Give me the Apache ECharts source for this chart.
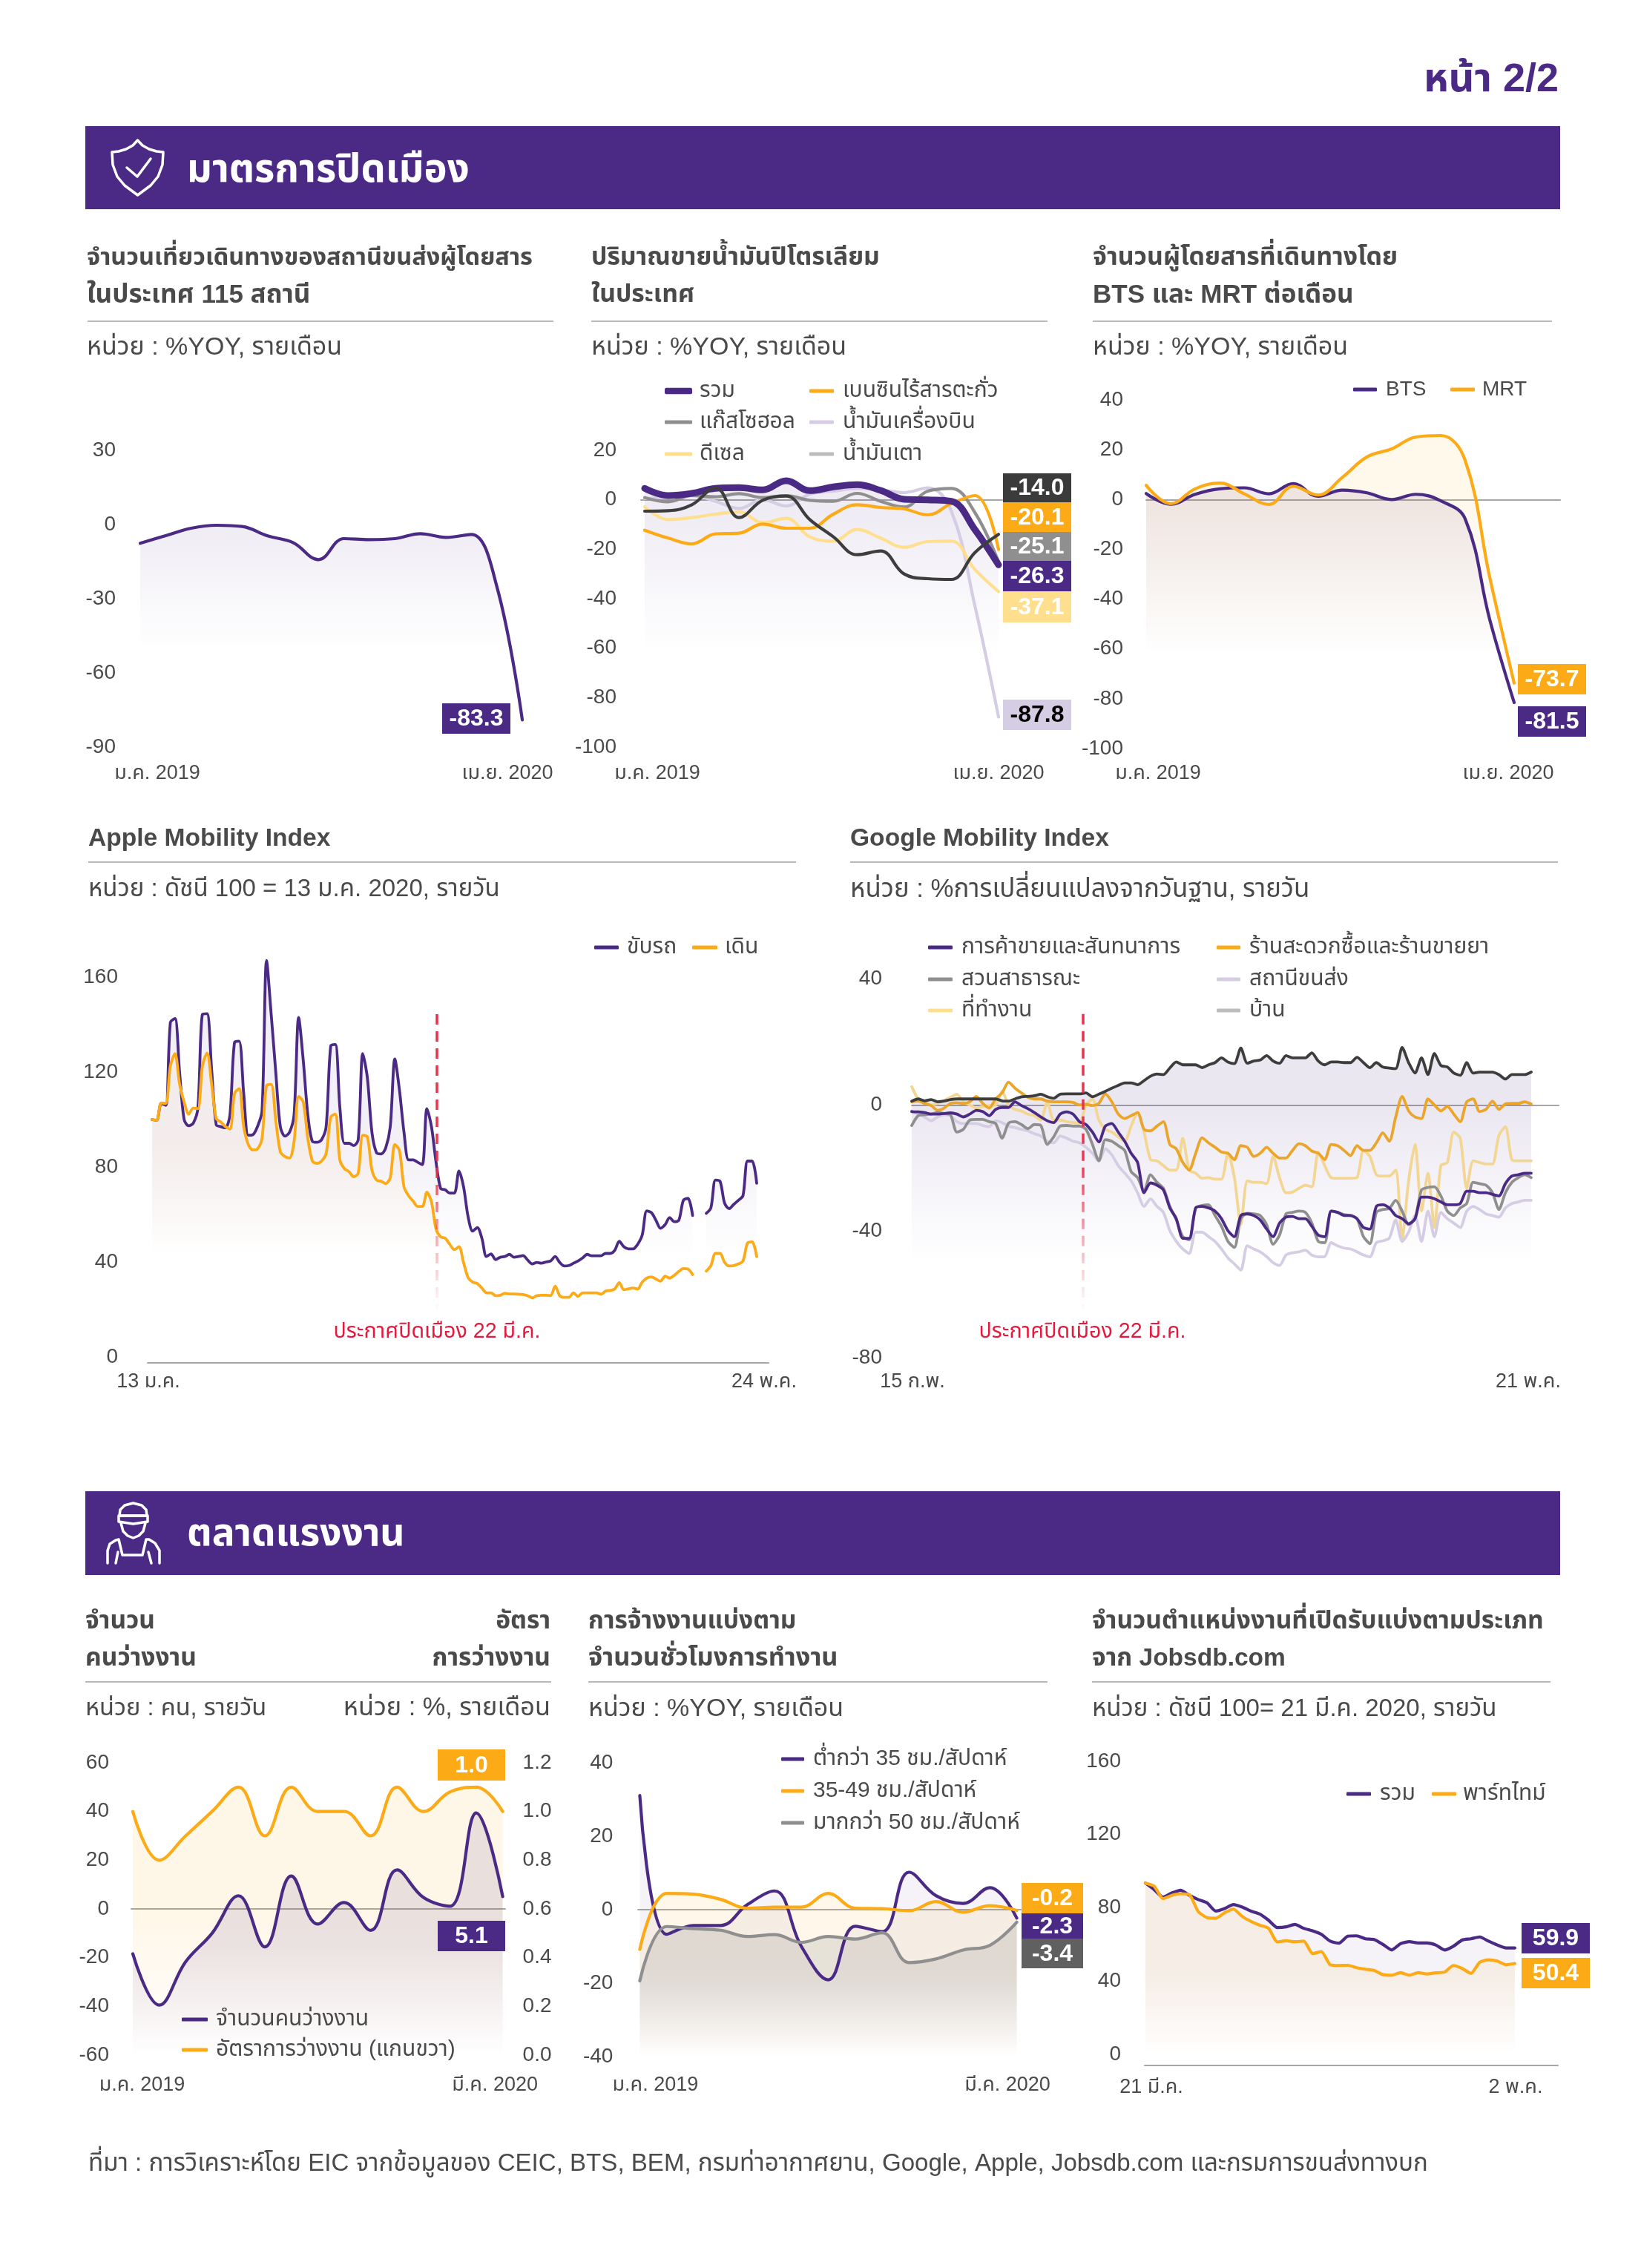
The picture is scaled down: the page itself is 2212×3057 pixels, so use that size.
<!DOCTYPE html>
<html lang="th"><head><meta charset="utf-8">
<style>html,body{margin:0;padding:0;background:#fff}#c{width:2212px;height:3057px}</style>
<script src="https://cdn.jsdelivr.net/npm/echarts@6/dist/echarts.min.js"></script>
</head><body><div id="c"></div>
<script>
// ---- chart 1
const tripLabels=['ม.ค. 2019','เม.ย. 2020'];
const tripYoy=[-7.6,-4.5,-1.5,-0.3,-0.8,-4.6,-7.3,-14.2,-5.7,-6.1,-5.7,-3.7,-5.2,-4,-25,-79];
// ---- chart 2
const fuelTotal=[4.6,1.7,2.6,4.6,4.9,4,7.7,3.7,5.2,6.1,3.8,0.2,0,-0.6,-12.1,-26.3];
const fuelGasohol=[0.9,-0.8,1.7,1.2,2.5,0.9,1.7,-0.2,-0.6,2.6,-0.6,-2.9,3.5,4.6,-5.2,-25.1];
const fuelDiesel=[-2.9,-8,-7.2,-5.8,-4.9,-9.2,-7.5,-15,-16.7,-12,-15.5,-19.2,-16.9,-16.7,-28.2,-37.1];
const fuelBenzene=[-12.3,-15.5,-17.8,-13.8,-13.5,-9.8,-11.5,-11.5,-5.8,-2,-3.1,-3.7,-6.1,-1.5,1.7,-20.1];
const fuelJet=[0.5,1,1.7,-0.6,-3.5,0,-2.5,2.3,3.5,4.6,4,2.9,4.8,-4.6,-43,-87.8];
const fuelOil=[-4.6,-4.4,-2,4.9,-7.2,-0.2,1.5,-8,-15,-22.2,-20.7,-30,-31.9,-32.2,-21.3,-14];
// ---- chart 3
const btsYoy=[2.4,-1.9,2.1,4.3,4.7,2.3,6.4,1.3,3.8,2.7,0,2.1,-0.5,-7.7,-48,-81.5];
const mrtYoy=[5.7,-1.7,4.3,6.6,2.3,-2,5.3,1.8,8.9,17.1,20.3,25.1,25.7,15.8,-31,-73.7];
// ---- chart 4
const appleLabels=['13 ม.ค.','24 พ.ค.'];
const appleDrive=[100,99.7,106.8,106,141,142.5,120,100,97.4,98.5,104.8,144.4,144.6,121,97.8,97,96.5,102,132.5,133,111,93.4,93.6,97,103.5,167,144.4,120,97,93,94.6,102,143,125,102,90.8,90.4,91.5,97,131,131.6,105,90,90,89,91.5,127.8,117.6,94.6,86,85.5,88,97,125.5,112.5,94.6,83,83,82,81,104.6,97,82,71,70.4,69,69,78.3,71.7,59,53,54.5,50,42.3,43.4,41,42,42.3,43.2,42,42.3,42.7,40.8,39.2,39.8,39.5,40,40.4,42.3,39.8,38.3,38.5,39.5,40.4,41.7,43.2,42.6,42.6,42.6,43.6,43.6,44.9,48.7,46.4,45.5,45.5,47.4,51.3,61.5,60.8,57.6,54.2,55.7,58.7,57,57.6,66,66.8,59.6,null,null,60.5,62.8,74.5,74,64.7,62.5,64.3,66,67.9,82.5,82.5,73.2];
const appleWalk=[100,99.7,107,106.8,122.7,127.8,115,107.4,102.3,104.8,104.6,122.7,128,115,100.4,99,97,96,111,113,97,89.5,87.2,87.6,92,114.4,114.8,99.7,86.4,84.4,83.8,90.8,109.7,107.4,92,82.5,81.5,82.5,85.7,101,102.3,83,79.3,78,75.9,77.4,93.4,92.7,78.7,74.5,74,73,75.5,89.5,87,71.7,67.9,65.6,63.4,63.4,69.4,65.3,53.8,50.6,50,47.4,45.2,46.4,39.8,33.4,31.5,30.9,29,27,27,25.8,26,26.8,26.5,26.5,26.4,26.3,25.8,24.9,25.8,26,26,25.8,29.8,25.8,25.1,25.1,27,25.5,27,27,27,27,26.4,27.7,28,28.6,31.3,28.3,28.7,29,28.6,31.5,33.2,33.7,32.8,31.9,34,33.2,34.4,36,37.2,37,34.7,null,null,36.2,38.5,43.6,43.6,39.8,38.3,38.5,39.2,40.4,48,48.5,42.3];
// ---- chart 5
const googleLabels=['15 ก.พ.','21 พ.ค.'];
const googleHome=[1.2,1.9,1.3,1.7,1,1.2,1.7,1.9,1.9,1.9,1.9,1.9,1.9,1.9,1.3,1.2,1.9,2.6,2.7,2.9,3.4,2.6,2.1,3.4,3.5,3.5,3.5,3.8,2.6,3.4,4.3,5.3,6.2,7,7,6.4,7.7,9.1,9.8,9.6,11.7,13.6,12.7,12.7,12.7,11.8,12.7,13.4,14.9,13.6,13.1,18,13.2,13.9,14.2,15.6,13.9,13.2,15.6,14.9,14.9,14.9,16.5,13.9,12.7,13.6,13.6,13.4,13.4,15.1,13.4,11.8,13.4,12,11.7,11.5,18.2,13.4,10.1,14.9,9.6,16.3,12.5,12,10.1,9.4,13.4,10.1,10.4,10.4,10.4,9.6,8.2,9.6,9.6,9.6,10.4];
const googleGrocery=[1,1.2,0.5,-0.2,-1.7,-1,0.5,0.7,0.5,1,2.7,0.5,-1,1.9,3.8,7.2,5.3,3.8,2.4,1.9,1.9,1.2,1,1,1,0.8,0,0.2,-0.2,0.5,3.5,1,-2.9,-4.3,-3.4,-2.4,-7.7,-8.2,-6.7,-5.3,-12.5,-13.9,-18.2,-20.6,-15.3,-10.4,-12,-13.4,-14.9,-15.3,-17.3,-12.9,-13.4,-16.3,-15.3,-13.4,-15.3,-16.8,-16.8,-14.4,-12.3,-12.9,-14.6,-15.3,-17.3,-12.5,-12.9,-14.4,-16,-12.9,-14.4,-14.4,-12,-8.8,-11.5,-3.8,2.7,-1.9,-3.8,-4.3,1.9,0,-1.9,-0.5,-2.9,-5.3,1,1.9,-2.1,-1.4,1.2,-1.4,0.3,0.5,0.5,1,0.3];
const googleWork=[5.8,1.9,1,0,0.5,1.4,2.4,3.4,1,0,-1,-0.5,-0.2,0,4.3,0,-1.4,-1.9,-2.9,-3.4,-4.8,1,-4.8,-4.8,-5.3,-5.6,-5.8,0,1.9,-4.8,-7.7,-8.6,-10.1,-11.5,-6.7,-2.4,-8.6,-17.3,-17.7,-19.2,-20.6,-20.6,-10.5,-20.6,-21.6,-23.2,-23,-23.5,-23.5,-15.3,-23,-37.9,-24,-24.5,-24.5,-24.9,-16.3,-23,-27.8,-27.6,-26.4,-25.4,-25.9,-14.9,-19.2,-23,-23.2,-23.2,-23.2,-23,-14.4,-16.3,-22.1,-22.5,-22.5,-20.6,-42.2,-24,-12.5,-33.6,-21.6,-38.8,-19.2,-18.2,-8.6,-10.5,-26.4,-17.7,-18.2,-18.7,-18.7,-9.6,-6.9,-17.3,-17.7,-17.7,-17.7];
const googleRetail=[-2.1,-2.2,-2.4,-2.9,-2.9,-2.7,-2.5,-2.9,-3.8,-2.9,-1.7,-2.1,-3.4,-1.4,-0.8,-0.8,1,-0.2,-1.2,-2.4,-3.8,-5,-5.6,-2.9,-2.2,-2.9,-5.3,-6.2,-8.6,-11.7,-6.7,-5.9,-8.6,-11.5,-15.3,-18.2,-27.8,-24.7,-25.4,-26.9,-32.6,-36,-42.2,-42.2,-32.6,-32.1,-32.6,-33.6,-36,-39.8,-41.7,-35,-34.5,-35,-36.4,-39.3,-41.7,-37.4,-35.5,-35.3,-36,-36,-38.4,-41.2,-41.7,-33.6,-34,-35,-35,-36,-38.8,-39.3,-32.1,-31.6,-32.6,-35,-36,-37.6,-36,-29.2,-29.2,-29.7,-30.7,-31.6,-31.6,-31.2,-27.3,-27.3,-27.8,-27.8,-28.3,-28.8,-24.9,-22.5,-22.1,-21.6,-21.6];
const googleParks=[-6.5,-3.4,-3.1,-2.9,-2.4,-2.7,-3.1,-8.6,-7.7,-4.8,-4.6,-4.6,-5.3,-5.9,-10.5,-5.8,-5.3,-6.2,-7.5,-6.2,-6.5,-12.5,-10.1,-6.7,-6.5,-6.7,-6.7,-7.7,-12.5,-17.7,-11,-11.5,-12.9,-14.4,-21.1,-23,-27.3,-22.1,-24.5,-26.4,-32.1,-36.4,-41.7,-42.7,-32.6,-31.8,-31.6,-35,-38.4,-43.2,-45.1,-36,-34.3,-34.5,-35,-37.9,-44.1,-41.2,-34.5,-34,-33.6,-34,-37.4,-43.2,-43.6,-33.6,-34,-34.7,-35,-36,-41.7,-43.9,-34,-33.1,-32.8,-30.2,-33.6,-37.9,-36,-26.9,-26.1,-25.9,-28.8,-33.6,-35,-32.6,-31.2,-24.5,-24.9,-25.4,-27.8,-33.1,-27.8,-24.5,-23,-22.1,-23];
const googleTransit=[-1.9,-2.9,-3.8,-5,-3.8,-3.1,-3.4,-5.3,-5.9,-5.9,-5.9,-6.5,-6.9,-5,-5.6,-6.7,-7.2,-7.7,-8.2,-9.1,-9.8,-11.5,-12,-9.8,-10.5,-11.5,-12,-13.4,-15.3,-17.7,-13.9,-15.8,-19.2,-21.6,-24,-27.8,-32.1,-29.7,-32.1,-34,-39.8,-43.2,-45.6,-47,-40.3,-40.3,-41.7,-43.2,-45.6,-48.4,-50.3,-52.3,-44.6,-45.6,-46.5,-48,-49.9,-50.8,-47.5,-46.8,-46.5,-46,-47.5,-48.1,-48,-43.6,-44.6,-45.3,-45.6,-46.5,-47.5,-48.1,-43.6,-43,-42.2,-36.4,-43.2,-40.3,-35,-43.2,-33.6,-41.7,-34,-36,-37.4,-38.8,-33.6,-32.1,-33.1,-34.5,-35,-35.5,-32.6,-31.2,-30.7,-30.2,-30.2];
// ---- chart 6
const jobLabels=['ม.ค. 2019','มี.ค. 2020'];
const unemployedCount=[-18.4,-39.5,-21.7,-10,5.4,-15.6,13.5,-6.2,2.6,-8.8,16,4.7,1.1,39.4,5.1];
const unemployedRate=[1.0,0.8,0.9,1.0,1.1,0.9,1.1,1.0,1.0,0.9,1.1,1.0,1.08,1.1,1.0];
// ---- chart 7
const hoursUnder35=[31.1,-6.7,-4.3,-4.3,1.4,5.1,-10,-19.1,-4.5,-6,10.2,3.8,1.7,6,-2.3];
const hours35to49=[-10.8,4.4,4.2,2.8,0.4,0.7,0.7,4.4,0.4,0.3,-0.3,2.2,-0.7,1.1,-0.2];
const hoursOver50=[-19.4,-4.6,-5.2,-5.6,-7.3,-6.8,-8.9,-7.3,-8,-6.3,-14.4,-13.4,-11,-9.7,-3.4];
// ---- chart 8
const jobsdbLabels=['21 มี.ค.','2 พ.ค.'];
const jobsdbAll=[93.5,89.9,85.8,88.1,89.6,86.8,84.5,82.7,78.2,79.6,81.8,80.4,78.2,76.6,73.2,69.2,69.6,70.9,68.8,67.4,65.5,61.8,60.7,64.5,64.7,63.1,62.7,60,57,60.4,61.5,60.8,60.8,59.7,57,59,62.4,63.1,64.1,61.8,59.7,58.1,58.1];
const jobsdbPart=[93.5,91.8,85,86.8,87.7,87.2,78,74.6,74.3,77.3,79.3,75.3,72.6,70.5,68.8,61.4,62,61.5,61.8,55,56.1,48.9,48.5,48.6,47.3,46.5,45.8,43.5,43.2,44.6,43.2,44.6,43.9,44.5,44.9,48.5,46.9,44.2,50.3,51.6,50.9,48.9,49.6];

const FF='"Liberation Sans","Noto Sans Thai","Noto Sans",sans-serif';
const PUR='#4b2a85',ORG='#fcab17',GRY='#8f8f8f',YEL='#ffdf8e',LAV='#d5cde4',DRK='#3d3d3d',TXT='#4a4a4a',RED='#e8173c';
const rgba=(h,a)=>{const n=parseInt(h.slice(1),16);return `rgba(${n>>16},${(n>>8)&255},${n&255},${a})`;};

const option={animation:false,backgroundColor:'#fff',textStyle:{fontFamily:FF},grid:[],xAxis:[],yAxis:[],series:[],legend:[],graphic:{elements:[]}};
const G=option.graphic.elements;
function text(t,x,y,size,color,weight,align){G.push({type:'text',x,y:y+1,silent:true,z:20,style:{text:t,fill:color||TXT,font:`${weight||'normal'} ${size}px ${FF}`,textAlign:align||'left',textVerticalAlign:'middle'}});}
function rect(x,y,w,h,c){G.push({type:'rect',silent:true,z:19,shape:{x,y,width:w,height:h},style:{fill:c}});}
function box(v,x,y,w,h,bg,fg){rect(x,y,w,h,bg);text(v,x+w/2,y+h/2,32,fg||'#fff','bold','center');}
function rule(x1,x2,y){G.push({type:'line',silent:true,z:19,shape:{x1,y1:y,x2,y2:y},style:{stroke:'#b9b9b9',lineWidth:2}});}
function stroke(type,shape){G.push({type,silent:true,z:21,shape,style:{stroke:'#fff',fill:'none',lineWidth:3.5,lineJoin:'round',lineCap:'round'}});}
function legend(name,x1,x2,y,color,thick,textX,size){option.legend.push({left:x1,top:y-16,padding:0,itemGap:0,itemWidth:x2-x1,itemHeight:thick||5,icon:'roundRect',selectedMode:false,data:[{name,itemStyle:{color,borderWidth:0}}],textStyle:{color:TXT,fontSize:size||30,fontFamily:FF,lineHeight:32,padding:[0,0,0,textX-x2-5]}});}
function pad(s){return s>=0?[0,0,0,2*s]:[0,-2*s,0,0];}
function ruler(x1,x2,top,bottom,min,max){
  const i=option.grid.length;
  option.grid.push({left:x1,top,width:x2-x1,height:bottom-top,show:false,outerBoundsMode:'none'});
  option.xAxis.push({gridIndex:i,type:'value',min:0,max:1,splitLine:{show:false},axisTick:{show:false},axisLabel:{show:false},axisLine:{show:true,onZero:true,lineStyle:{color:'#a6a6a6',width:2}}});
  option.yAxis.push({gridIndex:i,type:'value',min,max,show:false,splitLine:{show:false}});
}
function area(c,data,a,fade,hold,min){
  const max=Math.max(...data.filter(v=>v!=null)),r=max-min;
  const off=v=>Math.min(1,Math.max(0,(max-v)/r));
  return {origin:'start',color:{type:'linear',x:0,y:0,x2:0,y2:1,colorStops:[{offset:0,color:rgba(c,a)},{offset:off(hold==null?max:hold),color:rgba(c,a)},{offset:off(fade),color:rgba(c,0)},{offset:1,color:rgba(c,0)}]}};
}
function chart(c){
  const i=option.grid.length;
  option.grid.push({left:c.left,top:c.top,width:c.right-c.left,height:c.bottom-c.top,show:false,outerBoundsMode:'none'});
  const n=c.series[0].data.length;
  option.xAxis.push({gridIndex:i,type:'value',min:0,max:n-1,splitLine:{show:false},axisTick:{show:false},axisLine:{show:false},
    axisLabel:{customValues:[0,n-1],hideOverlap:false,margin:c.labelY-c.bottom-11,color:TXT,fontSize:27,formatter:v=>v===0?`{l|${c.xLabels[0]}}`:`{r|${c.xLabels[1]}}`,
      rich:{l:{fontSize:27,color:TXT,fontFamily:FF,padding:pad(c.shift[0])},r:{fontSize:27,color:TXT,fontFamily:FF,padding:pad(c.shift[1])}}}});
  const yLab={margin:c.margin,color:TXT,fontSize:28,fontFamily:FF,padding:[3,0,0,0]};
  option.yAxis.push({gridIndex:i,type:'value',min:c.min,max:c.max,interval:c.step,splitLine:{show:false},axisTick:{show:false},axisLine:{show:false},axisLabel:yLab});
  let y2=-1;
  if(c.right2){y2=option.yAxis.length;option.yAxis.push({gridIndex:i,type:'value',position:'right',min:c.right2.min,max:c.right2.max,interval:c.right2.step,splitLine:{show:false},axisTick:{show:false},axisLine:{show:false},axisLabel:{...yLab,margin:c.right2.margin,formatter:v=>v.toFixed(1)}});}
  const yi=option.yAxis.length-(y2>=0?2:1);
  c.series.forEach(s=>{
    const ser={type:'line',name:s.name,xAxisIndex:i,yAxisIndex:s.right?y2:yi,data:s.data.map((v,k)=>[k,v]),showSymbol:false,symbol:'none',clip:false,silent:true,smooth:c.smooth,connectNulls:false,color:s.color,lineStyle:{color:s.color,width:s.width||4.2,cap:'round',join:'round'},itemStyle:{color:s.color}};
    if(s.area){const m=s.right?c.right2.min:c.min;ser.areaStyle=area(s.area.c||s.color,s.data,s.area.a,s.area.fade,s.area.hold,m);}
    if(s.lock){ser.markLine={silent:true,symbol:'none',label:{show:false},animation:false,lineStyle:{type:[14,9],width:3.5,color:{type:'linear',x:0,y:0,x2:0,y2:1,colorStops:[{offset:0,color:rgba('#e8304a',1)},{offset:.5,color:rgba('#e8304a',.95)},{offset:.75,color:rgba('#e8304a',.4)},{offset:1,color:rgba('#e8304a',0)}]}},data:[[{coord:[s.lock[0],s.lock[1]]},{coord:[s.lock[0],s.lock[2]]}]]};}
    option.series.push(ser);
  });
}

// ---- static page furniture
text('หน้า 2/2',2101,107,54,PUR,'bold','right');
rect(115,170,1988,112,PUR); rect(115,2010,1988,113,PUR);
text('มาตรการปิดเมือง',252,230,52.5,'#fff','bold');
text('ตลาดแรงงาน',252,2068,51.5,'#fff','bold');
stroke('polygon',{points:[[185.5,189],[192,196],[201,201],[211,204],[220,205],[219,222],[213,238],[203,250],[185.5,263],[168,250],[158,238],[152,222],[151,205],[160,204],[170,201],[179,196]]});
stroke('polyline',{points:[[171,226],[185,238],[203,214]]});
stroke('polygon',{points:[[161,2043],[162,2035],[168,2029],[179.5,2026],[191,2029],[197,2035],[198,2043]]});
stroke('polygon',{points:[[160,2043],[199,2043],[199,2051],[179.5,2054],[160,2051]]});
stroke('polyline',{points:[[163,2053],[166,2064],[172,2070],[179.5,2073],[187,2070],[193,2064],[196,2053]]});
stroke('polyline',{points:[[145,2107],[145,2090],[148,2081],[156,2076],[160,2075],[165,2096],[192,2096],[197,2075],[201,2075],[209,2080],[215,2090],[215,2107]]});
stroke('polyline',{points:[[156,2107],[159,2092]]});
stroke('polyline',{points:[[204,2107],[200,2092]]});

text('จำนวนเที่ยวเดินทางของสถานีขนส่งผู้โดยสาร',117,347,32.5,TXT,'bold');
text('ในประเทศ 115 สถานี',117,397,35,TXT,'bold');
rule(118,746,433);text('หน่วย : %YOY, รายเดือน',117,468,34);
text('ปริมาณขายน้ำมันปิโตรเลียม',797,347,33.7,TXT,'bold');
text('ในประเทศ',797,397,33.7,TXT,'bold');
rule(797,1412,433);text('หน่วย : %YOY, รายเดือน',797,468,34);
text('จำนวนผู้โดยสารที่เดินทางโดย',1473,347,33.9,TXT,'bold');
text('BTS และ MRT ต่อเดือน',1473,397,35,TXT,'bold');
rule(1473,2092,433);text('หน่วย : %YOY, รายเดือน',1473,468,34);
text('Apple Mobility Index',119,1130,33.6,TXT,'bold');
rule(119,1073,1162);text('หน่วย : ดัชนี 100 = 13 ม.ค. 2020, รายวัน',119,1198,33);
text('Google Mobility Index',1146,1130,33.6,TXT,'bold');
rule(1146,2100,1162);text('หน่วย : %การเปลี่ยนแปลงจากวันฐาน, รายวัน',1146,1198,34.8);
text('จำนวน',115,2185,33.6,TXT,'bold');text('คนว่างงาน',115,2235,33.6,TXT,'bold');
text('อัตรา',742,2185,33.6,TXT,'bold','right');text('การว่างงาน',742,2235,33.6,TXT,'bold','right');
rule(115,743,2267);text('หน่วย : คน, รายวัน',115,2302,32.6);text('หน่วย : %, รายเดือน',742,2302,34.3,TXT,'normal','right');
text('การจ้างงานแบ่งตาม',793,2185,33.5,TXT,'bold');text('จำนวนชั่วโมงการทำงาน',793,2235,34.4,TXT,'bold');
rule(793,1412,2267);text('หน่วย : %YOY, รายเดือน',793,2303,34);
text('จำนวนตำแหน่งงานที่เปิดรับแบ่งตามประเภท',1472,2185,33.6,TXT,'bold');text('จาก Jobsdb.com',1472,2235,33.5,TXT,'bold');
rule(1472,2090,2267);text('หน่วย : ดัชนี 100= 21 มี.ค. 2020, รายวัน',1472,2303,33);
text('ที่มา : การวิเคราะห์โดย EIC จากข้อมูลของ CEIC, BTS, BEM, กรมท่าอากาศยาน, Google, Apple, Jobsdb.com และกรมการขนส่งทางบก',119,2916,33.1);
text('ประกาศปิดเมือง 22 มี.ค.',589,1794,28.6,RED,'normal','center');
text('ประกาศปิดเมือง 22 มี.ค.',1459,1794,28.6,RED,'normal','center');

// ---- rulers (zero lines and base lines)
ruler(864,1351,607,1007,-100,20);
ruler(1545,2103,539,1009,-100,40);
ruler(1229,2101,1319,1830,-80,40);
ruler(177,681,2376,2770,-60,60);
ruler(860,1376,2376,2772,-40,40);
ruler(199,1036,1827,1847,-1,1);
ruler(1543,2100,2774,2794,-1,1);

// ---- charts
chart({left:189,right:704,top:607,bottom:1007,min:-90,max:30,step:30,margin:33,labelY:1040,shift:[23,-20],xLabels:tripLabels,smooth:.4,
 series:[{name:'จำนวนเที่ยว',data:tripYoy,color:PUR,area:{a:.12,fade:-50,hold:-3}}]});
box('-83.3',596,948,92,41,PUR);

chart({left:869,right:1346,top:607,bottom:1007,min:-100,max:20,step:20,margin:38,labelY:1040,shift:[17,0],xLabels:tripLabels,smooth:.4,
 series:[
  {name:'น้ำมันเครื่องบิน',data:fuelJet,color:LAV},
  {name:'ดีเซล',data:fuelDiesel,color:YEL},
  {name:'แก๊สโซฮอล',data:fuelGasohol,color:GRY},
  {name:'เบนซินไร้สารตะกั่ว',data:fuelBenzene,color:ORG},
  {name:'รวม',data:fuelTotal,color:PUR,width:9,area:{a:.13,fade:-61,hold:-5}},
  {name:'น้ำมันเตา',data:fuelOil,color:DRK}]});
legend('รวม',896,933,527,PUR,8.5,943);legend('เบนซินไร้สารตะกั่ว',1091,1124,527,ORG,5,1136);
legend('แก๊สโซฮอล',896,933,569,GRY,5,943);legend('น้ำมันเครื่องบิน',1091,1124,569,LAV,5,1136);
legend('ดีเซล',896,933,612,YEL,5,943);legend('น้ำมันเตา',1091,1124,612,'#bdbdbd',5,1136);
box('-14.0',1352,638,92,39,'#3b3b3b');box('-20.1',1352,677,92,40,ORG);box('-25.1',1352,717,92,39,GRY);
box('-26.3',1352,756,92,41,PUR);box('-37.1',1352,797,92,42,YEL);box('-87.8',1352,943,92,41,LAV,'#000');

chart({left:1545,right:2041,top:539,bottom:1009,min:-100,max:40,step:20,margin:31,labelY:1040,shift:[16,-8],xLabels:tripLabels,smooth:.4,
 series:[{name:'BTS',data:btsYoy,color:PUR,area:{a:.14,fade:-62,hold:0}},{name:'MRT',data:mrtYoy,color:ORG,area:{a:.12,fade:-62,hold:0}}]});
legend('BTS',1824,1856,525,PUR,5,1868,28);legend('MRT',1955,1988,525,ORG,5,1998,28);
box('-73.7',2046,895,92,41,ORG);box('-81.5',2046,952,92,41,PUR);

chart({left:205,right:1020,top:1317,bottom:1829,min:0,max:160,step:40,margin:46,labelY:1860,shift:[-5,10],xLabels:appleLabels,smooth:.3,
 series:[{name:'ขับรถ',data:appleDrive,color:PUR,width:3.8,area:{a:.1,fade:42,hold:90},lock:[62.2,144.4,19.4]},{name:'เดิน',data:appleWalk,color:ORG,width:3.8,area:{a:.07,fade:42,hold:85}}]});
legend('ขับรถ',801,834,1277,PUR,5,845);legend('เดิน',933,967,1277,ORG,5,977);

chart({left:1229,right:2064,top:1319,bottom:1830,min:-80,max:40,step:40,margin:40,labelY:1860,shift:[1,-4],xLabels:googleLabels,smooth:.25,
 series:[
  {name:'ที่ทำงาน',data:googleWork,color:'#f3d693',width:3.8},
  {name:'ร้านสะดวกซื้อและร้านขายยา',data:googleGrocery,color:'#eba52a',width:3.8},
  {name:'บ้าน',data:googleHome,color:DRK,width:3.8,area:{c:PUR,a:.16,fade:-50,hold:0},lock:[26.5,28.8,-65.2]},
  {name:'สถานีขนส่ง',data:googleTransit,color:LAV,width:3.8},
  {name:'สวนสาธารณะ',data:googleParks,color:GRY,width:3.8},
  {name:'การค้าขายและสันทนาการ',data:googleRetail,color:PUR,width:3.8}]});
legend('การค้าขายและสันทนาการ',1251,1284,1277,PUR,5,1296);legend('ร้านสะดวกซื้อและร้านขายยา',1640,1672,1277,ORG,5,1684);
legend('สวนสาธารณะ',1251,1284,1320,GRY,5,1296);legend('สถานีขนส่ง',1640,1672,1320,LAV,5,1684);
legend('ที่ทำงาน',1251,1284,1362,YEL,5,1296);legend('บ้าน',1640,1672,1362,'#bdbdbd',5,1684);

chart({left:179,right:677.6,top:2376,bottom:2770,min:-60,max:60,step:20,margin:32,labelY:2808,shift:[12.5,-10.5],xLabels:jobLabels,smooth:.4,
 right2:{min:0,max:1.2,step:.2,margin:27},
 series:[{name:'อัตราการว่างงาน (แกนขวา)',data:unemployedRate,color:ORG,right:true,area:{a:.15,fade:0,hold:.6}},{name:'จำนวนคนว่างงาน',data:unemployedCount,color:PUR,area:{a:.16,fade:-60,hold:-15}}]});
legend('จำนวนคนว่างงาน',245,280,2722,PUR,5,291);legend('อัตราการว่างงาน (แกนขวา)',245,280,2763,ORG,5,291);
box('1.0',590,2358,91,42,ORG);box('5.1',590,2589,91,41,PUR);

chart({left:862.4,right:1370.6,top:2376,bottom:2772,min:-40,max:40,step:20,margin:36,labelY:2808,shift:[21,-12.6],xLabels:jobLabels,smooth:.4,
 series:[{name:'ต่ำกว่า 35 ชม./สัปดาห์',data:hoursUnder35,color:PUR,area:{a:.08,fade:-40,hold:-15}},{name:'35-49 ชม./สัปดาห์',data:hours35to49,color:ORG,area:{a:.13,fade:-40,hold:-15}},{name:'มากกว่า 50 ชม./สัปดาห์',data:hoursOver50,color:GRY,area:{a:.3,fade:-40,hold:-20}}]});
legend('ต่ำกว่า 35 ชม./สัปดาห์',1053,1084,2371,PUR,5,1096);legend('35-49 ชม./สัปดาห์',1053,1084,2414,ORG,5,1096);legend('มากกว่า 50 ชม./สัปดาห์',1053,1084,2457,GRY,5,1096);
box('-0.2',1377,2538,83,41,ORG);box('-2.3',1377,2579,83,34,PUR);box('-3.4',1377,2613,83,40,'#606060');

chart({left:1544,right:2042,top:2374,bottom:2769,min:0,max:160,step:40,margin:33,labelY:2811,shift:[8,1],xLabels:jobsdbLabels,smooth:.2,
 series:[{name:'รวม',data:jobsdbAll,color:PUR,area:{a:.08,fade:0,hold:45}},{name:'พาร์ทไทม์',data:jobsdbPart,color:ORG,area:{a:.12,fade:0,hold:45}}]});
legend('รวม',1815,1848,2418,PUR,5,1860);legend('พาร์ทไทม์',1930,1963,2418,ORG,5,1972);
box('59.9',2051,2592,92,41,PUR);box('50.4',2051,2639,92,41,ORG);

const inst=echarts.init(document.getElementById('c'),null,{renderer:'canvas',width:2212,height:3057});
inst.setOption(option);
</script></body></html>
